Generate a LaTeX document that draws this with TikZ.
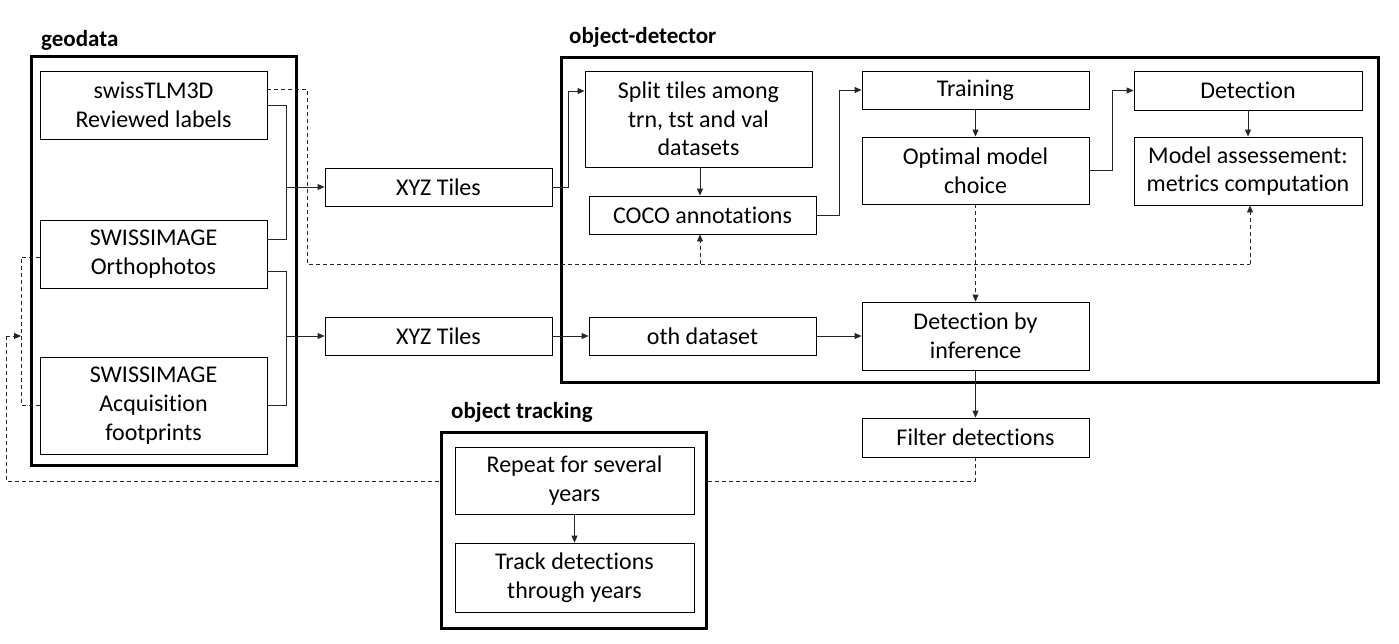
\documentclass[tikz,border=0pt]{standalone}
\usepackage{fontspec}
\setmainfont{Carlito}[Ligatures=NoCommon]
\usetikzlibrary{arrows.meta,backgrounds}
\tikzset{
  box/.style={draw=black, line width=0.9pt, fill=white, inner sep=0pt, align=center,
    font=\fontsize{24}{28.7}\selectfont},
  group/.style={draw=black, line width=3pt},
  grouplabel/.style={font=\fontsize{23}{26}\selectfont\bfseries, anchor=west, inner sep=0pt},
  conn/.style={draw=black!85, line width=0.9pt},
  arr/.style={conn, -{Triangle[length=7pt,width=6pt]}},
  dconn/.style={conn, dash pattern=on 4pt off 3pt},
  darr/.style={dconn, -{Triangle[length=7pt,width=6pt]}},
}
\begin{document}
\begin{tikzpicture}[x=1pt,y=-1pt]
\useasboundingbox (0,0) rectangle (1399,643);

% group frames
\draw[group] (31,56) rectangle (296,465);
\draw[group] (561,57) rectangle (1378,382);
\draw[group, fill=white] (441,432) rectangle (706,628);
\node[grouplabel] (lgeo) at (41,40) {geodata};
\node[grouplabel] (lobj) at (569,37) {object-detector};
\node[grouplabel] (ltrk) at (451,412) {object tracking};

% nodes
\node[box, minimum width=227pt, minimum height=68pt] (tlm) at (153.5,105) {swissTLM3D\\Reviewed labels};
\node[box, minimum width=227pt, minimum height=68pt] (ortho) at (153.5,254) {SWISSIMAGE\\Orthophotos};
\node[box, minimum width=227pt, minimum height=97pt] (acq) at (153.5,405.5) {SWISSIMAGE\\Acquisition\\footprints};
\node[box, minimum width=227pt, minimum height=38pt] (xyz1) at (438.5,187) {XYZ Tiles};
\node[box, minimum width=227pt, minimum height=38pt] (xyz2) at (438.5,336) {XYZ Tiles};
\node[box, minimum width=227pt, minimum height=96pt] (split) at (698.5,119) {Split tiles among\\trn, tst and val\\datasets};
\node[box, minimum width=227pt, minimum height=38pt] (coco) at (702.5,215) {COCO annotations};
\node[box, minimum width=227pt, minimum height=38pt] (train) at (975.5,90) {Training};
\node[box, minimum width=227pt, minimum height=67pt] (optim) at (975.5,170.5) {Optimal model\\choice};
\node[box, minimum width=228pt, minimum height=39pt] (det) at (1248,90.5) {Detection};
\node[box, minimum width=228pt, minimum height=68pt] (assess) at (1248,171) {Model assessement:\\metrics computation};
\node[box, minimum width=227pt, minimum height=38pt] (oth) at (702.5,336) {oth dataset};
\node[box, minimum width=227pt, minimum height=68pt] (infer) at (975.5,336) {Detection by\\inference};
\node[box, minimum width=227pt, minimum height=39pt] (filter) at (975.5,437.5) {Filter detections};
\node[box, minimum width=239pt, minimum height=67pt] (repeat) at (574.5,480.5) {Repeat for several\\years};
\node[box, minimum width=239pt, minimum height=69pt] (track) at (574.5,577.5) {Track detections\\through years};

% junction coordinates
\coordinate (j1) at (286,187);
\coordinate (j2) at (286,336);
\coordinate (dj) at (700,264);
\coordinate (lj) at (21,336);

% geodata -> XYZ tiles
\draw[conn] (tlm.east) -- (286,105) -- (286,239) -- ([yshift=15pt]ortho.east);
\draw[arr] (j1) -- (xyz1.west);
\draw[conn] ([yshift=-17pt]ortho.east) -- (286,271) -- (286,405.5) -- (acq.east);
\draw[arr] (j2) -- (xyz2.west);

% object-detector flow
\draw[arr] (xyz1.east) -- (568,187) |- ([yshift=28pt]split.west);
\draw[arr] (xyz2.east) -- (oth.west);
\draw[arr] (split.south -| dj) -- (coco.north -| dj);
\draw[arr] (coco.east) -- (839,215) |- (train.west);
\draw[arr] (train.south) -- (optim.north);
\draw[arr] (optim.east) -- (1112,170.5) |- (det.west);
\draw[arr] (det.south) -- (assess.north);
\draw[arr] (oth.east) -- (infer.west);
\draw[darr] (optim.south) -- (infer.north);
\draw[arr] (infer.south) -- (filter.north);
\draw[arr] (repeat.south) -- (track.north);

% dashed label links
\draw[dconn] ([yshift=16pt]tlm.east) -- (307,89) -- (307,264) -- (1250,264);
\draw[darr] (1250,264) -- (assess.south -| 1250,0);
\draw[darr] (dj) -- (coco.south -| dj);
\draw[dconn] ([yshift=-3pt]ortho.west) -- (21,257) -- (21,405.5) -- (acq.west);

\begin{pgfonlayer}{background}
\draw[dconn] (filter.south) -- (975.5,481) -- (6,481) -- (6,336);
\end{pgfonlayer}
\draw[darr] (6,336) -- (lj);
\end{tikzpicture}
\end{document}
